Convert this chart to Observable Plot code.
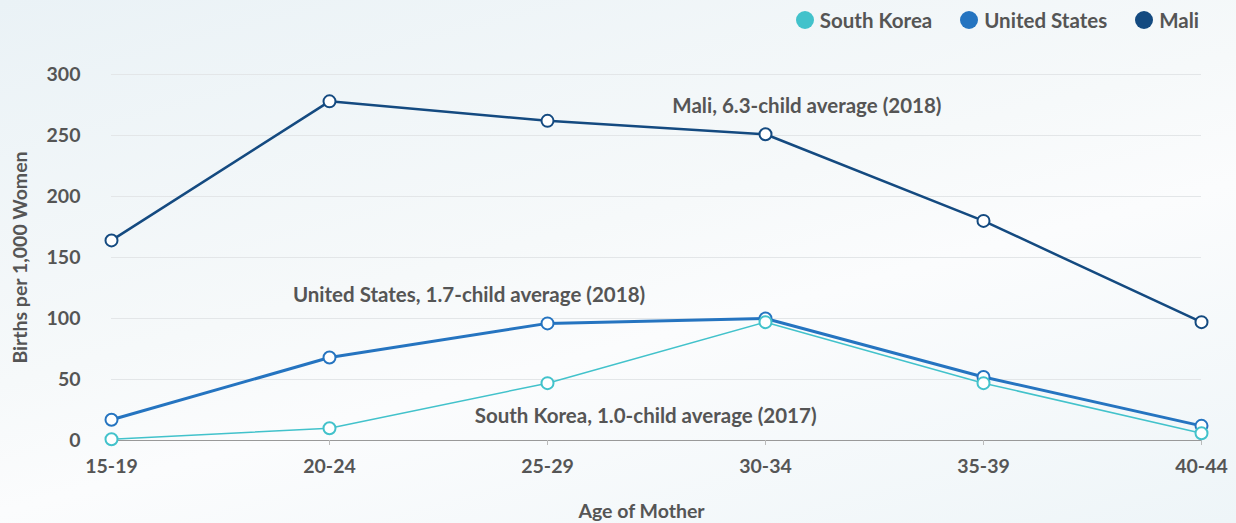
<!DOCTYPE html>
<html>
<head>
<meta charset="utf-8">
<script src="https://cdn.jsdelivr.net/npm/d3@7"></script>
<script src="https://cdn.jsdelivr.net/npm/@observablehq/plot@0.6"></script>
<style>
  html, body { margin: 0; padding: 0; }
  body {
    width: 1236px; height: 523px; overflow: hidden;
    background: linear-gradient(165deg, #eaf2f6 0%, #f6f9fa 45%, #fbfcfd 60%, #eef5f8 100%);
    font-family: "Lato", "Open Sans", sans-serif;
  }
  #legend {
    height: 40px; display: flex; justify-content: flex-end; align-items: center;
    padding-right: 37px; box-sizing: border-box; gap: 28px;
    font-weight: bold; font-size: 20.5px; color: #555;
  }
  .item { display: flex; align-items: center; gap: 6px; }
  .sw { width: 18px; height: 18px; border-radius: 50%; display: inline-block; }
  #chart svg { display: block; }
</style>
</head>
<body>
<div id="legend"></div>
<div id="chart"></div>
<script>
const ages = ["15-19", "20-24", "25-29", "30-34", "35-39", "40-44"];
const seriesNames = ["South Korea", "United States", "Mali"];
const seriesColors = ["#42c2cb", "#2574c0", "#144a80"];
const southKorea = [1, 10, 47, 97, 47, 6];
const unitedStates = [17, 68, 96, 100, 52, 12];
const mali = [164, 278, 262, 251, 180, 97];
const yTicks = [0, 50, 100, 150, 200, 250, 300];
const notes = [
  {text: "Mali, 6.3-child average (2018)", x: 3.19, y: 274},
  {text: "United States, 1.7-child average (2018)", x: 1.64, y: 119},
  {text: "South Korea, 1.0-child average (2017)", x: 2.45, y: 20}
];

const seriesValues = [southKorea, unitedStates, mali];
const rows = [];
seriesNames.forEach((s, si) => seriesValues[si].forEach((v, i) => rows.push({series: s, i, v})));
const widths = {"South Korea": 1.5, "United States": 3, "Mali": 2.5};
const colorOf = Object.fromEntries(seriesNames.map((s, i) => [s, seriesColors[i]]));

const legend = document.getElementById("legend");
seriesNames.forEach((s, i) => {
  const d = document.createElement("div");
  d.className = "item";
  d.innerHTML = `<span class="sw" style="background:${seriesColors[i]}"></span><span>${s}</span>`;
  legend.appendChild(d);
});

const lineOrder = ["Mali", "South Korea", "United States"];
const dotOrder = ["Mali", "United States", "South Korea"];

const chart = Plot.plot({
  width: 1236, height: 483,
  marginTop: 34, marginBottom: 83, marginLeft: 111, marginRight: 35,
  style: {background: "transparent", fontFamily: "Lato, 'Open Sans', sans-serif", fontWeight: "bold", color: "#555"},
  x: {domain: [0, ages.length - 1], label: null},
  y: {domain: [0, 300], label: null},
  marks: [
    Plot.gridY(yTicks.slice(1), {stroke: "#e3e6e8", strokeOpacity: 1, strokeWidth: 1}),
    Plot.ruleY([0], {stroke: "#999", strokeWidth: 1}),
    Plot.axisY(yTicks, {tickSize: 0, tickPadding: 31, fontSize: 19.5, fill: "#555", label: null}),
    Plot.axisX(d3.range(ages.length), {tickSize: 5, tickPadding: 14, stroke: "#bbb", fontSize: 19.5, fill: "#555", tickFormat: i => ages[i], label: null}),
    ...lineOrder.map(s => Plot.line(rows.filter(r => r.series === s), {x: "i", y: "v", stroke: colorOf[s], strokeWidth: widths[s]})),
    ...dotOrder.map(s => Plot.dot(rows.filter(r => r.series === s), {x: "i", y: "v", r: 6, fill: "white", stroke: colorOf[s], strokeWidth: 2})),
    Plot.text(notes, {x: "x", y: "y", text: "text", fontSize: 20.5, fill: "#555", fontWeight: "bold"}),
    Plot.text(["Births per 1,000 Women"], {frameAnchor: "left", textAnchor: "middle", lineAnchor: "middle", dx: -91, rotate: -90, fontSize: 19.5, fill: "#555", fontWeight: "bold"}),
    Plot.text(["Age of Mother"], {frameAnchor: "bottom", lineAnchor: "middle", dy: 71, dx: -15, fontSize: 19.5, fill: "#555", fontWeight: "bold"})
  ]
});
document.getElementById("chart").appendChild(chart);
</script>
</body>
</html>
